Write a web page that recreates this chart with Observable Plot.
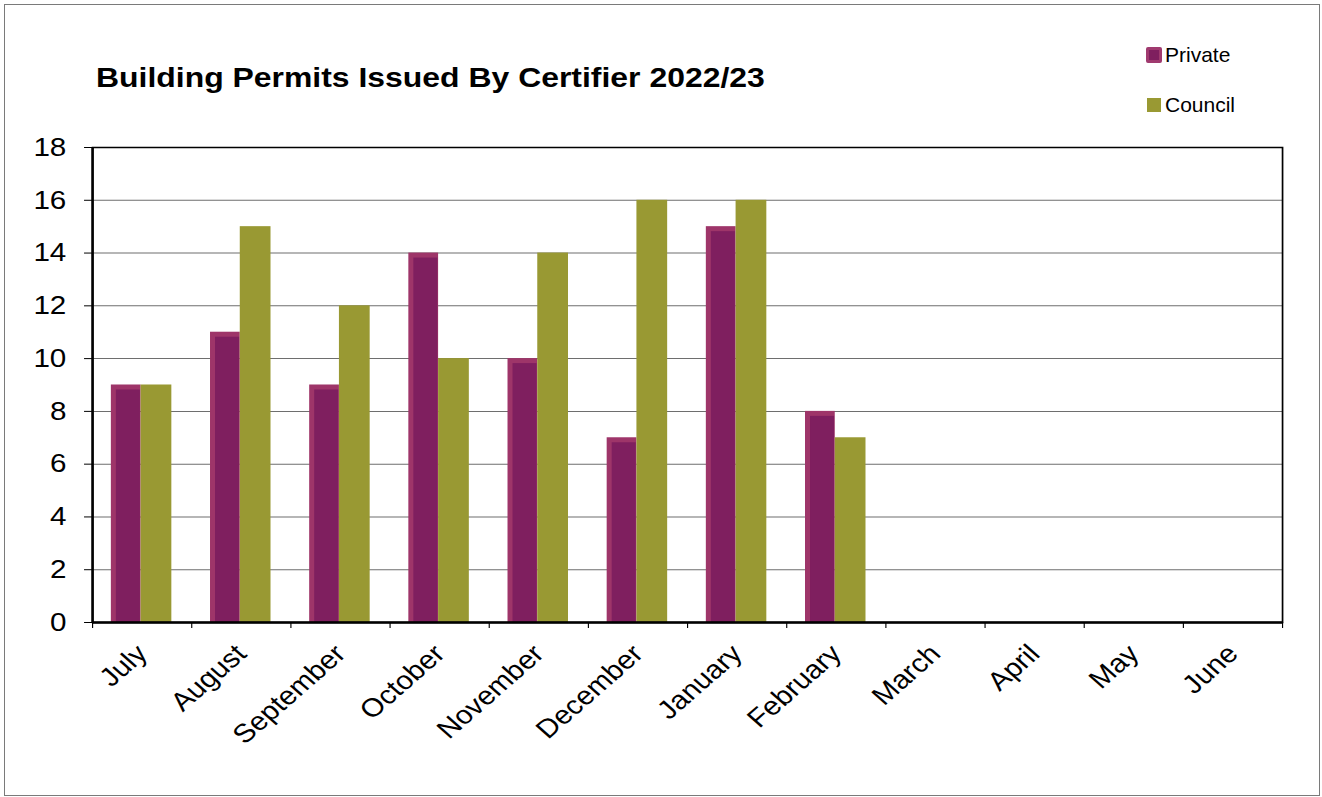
<!DOCTYPE html>
<html>
<head>
<meta charset="utf-8">
<script src="https://cdn.jsdelivr.net/npm/d3@7"></script>
<script src="https://cdn.jsdelivr.net/npm/@observablehq/plot@0.6"></script>
<style>
  html, body { margin: 0; padding: 0; background: #fff; }
  #wrap { position: relative; width: 1322px; height: 797px; font-family: "Liberation Sans", Arial, sans-serif; overflow: hidden; background: #fff; }
  #border { position: absolute; left: 4px; top: 4px; width: 1314px; height: 790px; border: 1.5px solid #7a7a7a; z-index: 3; pointer-events: none; }
  #title { position: absolute; left: 96px; top: 64px; font-size: 28px; line-height: 28px; font-weight: bold; color: #000; white-space: nowrap; transform: scaleX(1.14); transform-origin: left top; }
  .leg { position: absolute; left: 1146px; font-size: 21px; line-height: 21px; color: #000; white-space: nowrap; display: flex; align-items: center; }
  .sw { display: inline-block; box-sizing: border-box; margin-right: 3px; }
  #chart { position: absolute; left: 0; top: 120px; transform-origin: left top; }
</style>
</head>
<body>
<div id="wrap">
  <div id="border"></div>
  <div id="title">Building Permits Issued By Certifier 2022/23</div>
  <div class="leg" style="top:44px"><span class="sw" style="width:16px;height:16px;background:#7F1F5F;border:3px solid #A03A6F;border-radius:2px"></span>Private</div>
  <div class="leg" style="top:94px"><span class="sw" style="width:14px;height:14px;background:#999933;margin-left:1px;margin-right:4px"></span>Council</div>
  <div id="chart"></div>
</div>
<script>
const months = ["July","August","September","October","November","December","January","February","March","April","May","June"];
const seriesNames = ["Private","Council"];
const privateValues = [9, 11, 9, 14, 10, 7, 15, 8, null, null, null, null];
const councilValues = [9, 15, 12, 10, 14, 16, 16, 7, null, null, null, null];
const yTicks = [0, 2, 4, 6, 8, 10, 12, 14, 16, 18];

const privateData = months.map((m, i) => ({month: m, series: seriesNames[0], value: privateValues[i]})).filter(d => d.value != null);
const councilData = months.map((m, i) => ({month: m, series: seriesNames[1], value: councilValues[i]})).filter(d => d.value != null);

// The reference is drawn horizontally stretched; render narrower and stretch.
const S = 1.14;
const W = 1322 / S, H = 660, ML = 92 / S, MR = 40 / S, MT = 27, MB = 158;
const step = (W - ML - MR) / months.length;

const chart = Plot.plot({
  width: W, height: H,
  marginLeft: ML, marginRight: MR, marginTop: MT, marginBottom: MB,
  style: {fontFamily: "'Liberation Sans', Arial, sans-serif", color: "#000", background: "transparent", overflow: "visible"},
  x: {domain: months, type: "band", paddingInner: 0, paddingOuter: 0, round: false, label: null},
  y: {domain: [0, 18], label: null},
  marks: [
    Plot.gridY(yTicks, {stroke: "#6e6e6e", strokeOpacity: 1, strokeWidth: 1}),
    Plot.barY(privateData, {x: "month", y: "value", fill: "#9E3569", insetLeft: step * 0.19, insetRight: step * 0.51}),
    Plot.barY(privateData, {x: "month", y: "value", fill: "#7F1F5F", insetLeft: step * 0.19 + 4.4, insetRight: step * 0.51 + 0.6, insetTop: 5}),
    Plot.barY(councilData, {x: "month", y: "value", fill: "#999933", insetLeft: step * 0.49, insetRight: step * 0.20}),
    Plot.frame({stroke: "#000", strokeWidth: 1.5}),
    Plot.ruleY([0], {stroke: "#000", strokeWidth: 2.5}),
    Plot.ruleX([months[0]], {stroke: "#000", strokeWidth: 2.2, dx: -step / 2}),
    Plot.axisY(yTicks, {tickSize: 7, tickPadding: 16, fontSize: 26, stroke: "#000", label: null}),
    Plot.axisX(months, {tickSize: 6, text: null, dx: -step / 2, stroke: "#000", label: null}),
    Plot.axisX([months[months.length - 1]], {tickSize: 6, text: null, dx: step / 2, stroke: "#000", label: null}),
    Plot.axisX(months, {tickSize: 0, tickPadding: 27, tickRotate: -45, fontSize: 26, label: null})
  ]
});
const holder = document.getElementById("chart");
holder.style.transform = `scaleX(${S})`;
holder.appendChild(chart);
</script>
</body>
</html>
